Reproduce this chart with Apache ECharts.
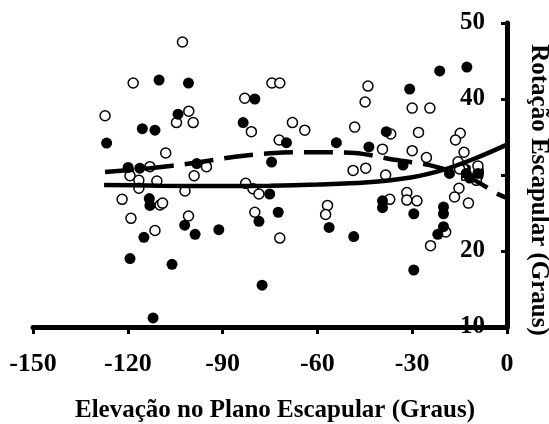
<!DOCTYPE html>
<html>
<head>
<meta charset="utf-8">
<script src="https://cdn.jsdelivr.net/npm/echarts@6/dist/echarts.min.js"></script>
<style>
html,body{margin:0;padding:0;background:#fff;}
#chart{width:549px;height:424px;}
</style>
</head>
<body>
<div id="chart"></div>
<script>
// X tick labels and Y tick labels
var xTicks = [-150, -120, -90, -60, -30, 0];
var yTicks = [10, 20, 30, 40, 50];

// Filled (black) points: [elevation, rotation]
var filledPoints = [
  [-110.1, 42.5], [-100.8, 42.1], [-104.1, 38.0], [-115.4, 36.1], [-111.4, 35.9],
  [-126.7, 34.2], [-119.9, 31.0], [-116.2, 30.9], [-98.2, 31.5], [-113.2, 26.9],
  [-113.0, 26.0], [-102.0, 23.4], [-98.7, 22.2], [-91.2, 22.8], [-114.9, 21.8],
  [-119.3, 19.0], [-106.0, 18.25], [-112.0, 11.2], [-79.8, 40.0], [-83.5, 36.9],
  [-69.8, 34.25], [-54.0, 34.25], [-74.5, 31.7], [-43.7, 33.7], [-75.1, 27.5],
  [-78.5, 23.9], [-72.4, 25.1], [-56.3, 23.1], [-48.5, 21.9], [-77.5, 15.5],
  [-21.3, 43.7], [-12.7, 44.2], [-30.8, 41.3], [-38.2, 35.7], [-32.9, 31.3],
  [-18.2, 30.2], [-12.9, 30.2], [-9.2, 30.2], [-39.4, 26.6], [-39.4, 25.7],
  [-29.5, 24.9], [-20.1, 25.8], [-20.1, 24.9], [-20.1, 23.2], [-21.9, 22.2],
  [-29.5, 17.5], [-11.8, 29.6]
];

// Open (white) points: [elevation, rotation]
var openPoints = [
  [-102.7, 47.5], [-118.3, 42.1], [-127.2, 37.8], [-100.7, 38.4], [-104.6, 36.9],
  [-99.3, 36.9], [-108.0, 32.9], [-113.0, 31.1], [-95.1, 31.1], [-119.3, 29.9],
  [-116.5, 29.3], [-116.5, 28.25], [-110.8, 29.2], [-99.0, 29.9], [-101.9, 27.9],
  [-121.8, 26.8], [-109.8, 26.05], [-109.0, 26.3], [-119.0, 24.3], [-100.8, 24.6],
  [-111.4, 22.7], [-74.4, 42.1], [-71.9, 42.1], [-83.0, 40.1], [-80.9, 35.7],
  [-67.9, 36.9], [-64.0, 35.9], [-72.1, 34.6], [-48.2, 36.3], [-48.7, 30.6],
  [-44.7, 30.9], [-44.0, 41.7], [-44.9, 39.6], [-30.0, 38.8], [-24.4, 38.8],
  [-36.8, 35.4], [-28.0, 35.6], [-14.8, 35.5], [-16.3, 34.6], [-39.4, 33.4],
  [-30.0, 33.2], [-25.5, 32.3], [-13.6, 33.0], [-15.5, 31.75], [-38.4, 30.0],
  [-15.0, 30.8], [-9.7, 29.3], [-82.7, 28.9], [-80.4, 28.2], [-78.5, 27.5],
  [-79.8, 25.1], [-71.9, 21.7], [-56.8, 26.0], [-57.4, 24.8], [-37.1, 26.8],
  [-31.7, 27.7], [-31.7, 26.7], [-28.5, 26.6], [-19.4, 22.5], [-24.2, 20.7],
  [-15.2, 28.25], [-16.6, 27.1], [-12.2, 26.3], [-9.2, 31.2]
];

// Fitted curves
var solidCurve = [
  [-127.5, 28.7], [-110, 28.6], [-90, 28.55], [-75, 28.6], [-60, 28.75],
  [-45, 29.0], [-30, 29.7], [-20, 30.7], [-10, 32.2], [0, 34.0]
];
var dashedCurve = [
  [-127.2, 30.4], [-113, 30.9], [-98.8, 31.6], [-86.1, 32.4], [-73.5, 32.9],
  [-60.8, 33.0], [-48.2, 32.9], [-35.6, 32.0], [-24.5, 31.3], [-11.8, 29.6],
  [-2.4, 27.4], [0, 27.0]
];

var serif = '"Liberation Serif", "Times New Roman", serif';
var chart = echarts.init(document.getElementById('chart'), null, {renderer: 'canvas'});
chart.setOption({
  animation: false,
  backgroundColor: '#fff',
  grid: {left: 33, right: 42, top: 23, bottom: 97, containLabel: false},
  xAxis: {
    type: 'value',
    min: xTicks[0], max: xTicks[xTicks.length - 1], interval: 30,
    splitLine: {show: false},
    axisLine: {show: true, onZero: false, lineStyle: {color: '#000', width: 5}},
    axisTick: {show: true, length: 7, lineStyle: {color: '#000', width: 3}},
    axisLabel: {color: '#000', fontFamily: serif, fontWeight: 'bold', fontSize: 26, margin: 24}
  },
  yAxis: {
    type: 'value', position: 'right',
    min: yTicks[0], max: yTicks[yTicks.length - 1], interval: 10,
    splitLine: {show: false},
    axisLine: {show: true, onZero: false, lineStyle: {color: '#000', width: 5}},
    axisTick: {show: true, inside: true, length: 6, lineStyle: {color: '#000', width: 3}},
    axisLabel: {inside: true, margin: 22, color: '#000', fontFamily: serif, fontWeight: 'bold', fontSize: 25}
  },
  series: [
    {type: 'scatter', data: openPoints, symbol: 'circle', symbolSize: 10,
     itemStyle: {color: '#fff', borderColor: '#000', borderWidth: 1.5, opacity: 1}},
    {type: 'scatter', data: filledPoints, symbol: 'circle', symbolSize: 11,
     itemStyle: {color: '#000', opacity: 1}},
    {type: 'line', data: solidCurve, showSymbol: false, smooth: 0.3,
     lineStyle: {color: '#000', width: 4.5}},
    {type: 'line', data: dashedCurve, showSymbol: false, smooth: 0.3,
     lineStyle: {color: '#000', width: 4.5, type: [29, 11], cap: 'butt'}}
  ],
  graphic: [
    {type: 'text', x: 275, y: 411,
     style: {text: 'Elevação no Plano Escapular (Graus)', font: 'bold 25px ' + serif,
             fill: '#000', align: 'center', verticalAlign: 'middle', textAlign: 'center', textVerticalAlign: 'middle'}},
    {type: 'text', x: 538, y: 190, rotation: -Math.PI / 2,
     style: {text: 'Rotação Escapular (Graus)', font: 'bold 25px ' + serif,
             fill: '#000', align: 'center', verticalAlign: 'middle', textAlign: 'center', textVerticalAlign: 'middle'}}
  ]
});
</script>
</body>
</html>
